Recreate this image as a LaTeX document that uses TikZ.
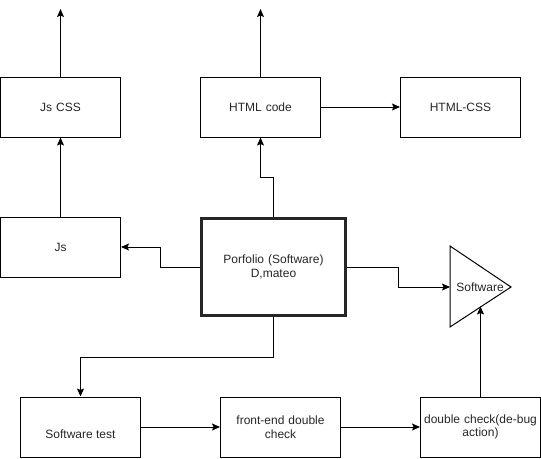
\documentclass[tikz,border=0pt]{standalone}
\usepackage{fontspec}
\setmainfont{Liberation Sans}
\usetikzlibrary{arrows.meta}
\begin{document}
\begin{tikzpicture}[x=1pt,y=-1pt,
  box/.style={draw=black,line width=1pt,minimum width=120pt,minimum height=60pt,inner sep=2pt,
    align=center,text width=116pt,font=\fontsize{12}{13.5}\selectfont,text=black!85},
  conn/.style={line width=1pt,-{Stealth[length=8pt,width=7pt,inset=1.5pt]}},
  lbl/.style={font=\fontsize{12}{13.5}\selectfont,text=black!85}]
\useasboundingbox (0,0) rectangle (541,458);
\node[box] (jscss) at (60.5,107) {Js CSS};
\node[box] (html) at (260.5,107) {HTML code};
\node[box] (htmlcss) at (460.5,107) {HTML-CSS};
\node[box] (js) at (60.5,247) {Js};
\node[box,draw=black!85,line width=3.5pt,minimum width=144pt,minimum height=97pt,text width=140pt] (port) at (273.5,267) {Porfolio (Software)\\D,mateo};
\node[box] (test) at (80.5,427) {};
\node[lbl] (testlbl) at (80.5,434.5) {Software test};
\node[box] (front) at (280.5,427) {front-end double\\check};
\node[box] (dc) at (480.5,427) {double check(de-bug\\action)};
% triangle
\coordinate (ttl) at (450,246);
\coordinate (tbl) at (450,327);
\coordinate (ttip) at (511,287);
\draw[line width=1pt,line join=miter] (ttl) -- (ttip) -- (tbl) -- cycle;
\node[lbl] (sw) at (480,287) {Software};
\coordinate (swl) at (450,287);
\coordinate (swb) at (480.5,306.5);
% free ends
\coordinate (up1) at (60.5,9);
\coordinate (up2) at (260.5,9);
% connectors
\draw[conn] (jscss.north) -- (up1);
\draw[conn] (html.north) -- (up2);
\draw[conn] (html.east) -- (htmlcss.west);
\draw[conn] (js.north) -- (jscss.south);
\draw[conn] (port.north) -- (273.5,177) -- (260.5,177) -- (html.south);
\draw[conn] (port.west) -- (160.5,267) -- (160.5,247) -- (js.east);
\draw[conn] (port.east) -- (398.5,267) -- (398.5,287) -- (swl);
\draw[conn] (port.south) -- (273.5,357) -- (80.5,357) -- (test.north);
\draw[conn] (test.east) -- (front.west);
\draw[conn] (front.east) -- (dc.west);
\draw[conn] (dc.north) -- (swb);
\end{tikzpicture}
\end{document}
